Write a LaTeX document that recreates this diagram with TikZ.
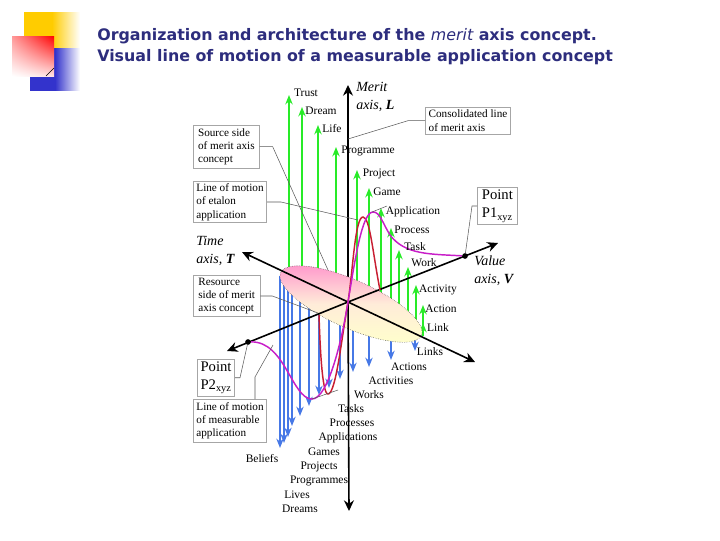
\documentclass[tikz,border=0pt]{standalone}
\usepackage{fontspec}
\setmainfont{Liberation Serif}
\newfontfamily\titlefont{DejaVu Sans}
\definecolor{title-navy}{RGB}{45,45,125}
\definecolor{logo-yellow}{RGB}{255,204,0}
\definecolor{logo-blue}{RGB}{51,51,204}
\definecolor{arrow-green}{RGB}{40,235,40}
\definecolor{arrow-blue}{RGB}{70,120,230}
\definecolor{line-magenta}{RGB}{200,30,200}
\definecolor{line-red}{RGB}{200,30,50}
\usetikzlibrary{arrows.meta, calc, shadings}

\begin{document}
\begin{tikzpicture}[
    x=0.75pt, y=-0.75pt,
    labelbox/.style={rectangle, draw=gray!70, line width=0.5pt, fill=white, align=left, inner sep=1pt, font=\fontsize{8.4}{10}\selectfont, anchor=north west},
    pointbox/.style={labelbox, inner sep=1.5pt, font=\fontsize{11}{14}\selectfont},
    concept/.style={font=\fontsize{8.6}{10}\selectfont, inner sep=0pt},
    axislabel/.style={font=\fontsize{10.5}{13.5}\selectfont\itshape, align=left, anchor=west, inner sep=0pt},
    axis/.style={-{Stealth[length=8pt,width=7.5pt]}, line width=1.2pt, black},
    risearrow/.style={-{Stealth[length=7pt,width=5.5pt]}, line width=1.8pt, arrow-green},
    fallarrow/.style={-{Stealth[length=7pt,width=5.5pt]}, line width=1.6pt, arrow-blue},
    leader/.style={gray!70!black, line width=0.4pt},
    titleline/.style={anchor=west, inner sep=0pt, text=title-navy, font=\titlefont\bfseries\fontsize{11.9}{14}\selectfont}
]

\useasboundingbox (0,0) rectangle (720,540);

% logo
\shade[left color=logo-yellow, right color=white, middle color=logo-yellow] (24,12) rectangle (80,48);
\shade[left color=logo-blue, right color=white, middle color=logo-blue] (30,48) rectangle (80,90);
\shade[upper right=red, lower left=white, upper left=red!40, lower right=red!12] (12,36) rectangle (54,76);
\coordinate (logoa) at (46,76);
\coordinate (logob) at (54,68);
\draw[black, line width=0.3pt] (logoa) -- (logob);

% title
\node[titleline] (titleone) at (97,36) {Organization and architecture of the {\mdseries\itshape merit} axis concept.};
\node[titleline] (titletwo) at (97,57) {Visual line of motion of a measurable application concept};

% falling arrows
\foreach \i/\px/\ptop/\pbot in {1/280/276/448, 2/284/278/443, 3/288/280/437, 4/292/282/426, 5/300/285/416, 6/309/295/406, 7/319/305/395, 8/329/310/388, 9/340/320/379, 10/353/325/372, 11/369/330/367, 12/391/330/360, 13/415/330/351} {
    \coordinate (ft\i) at (\px,\ptop);
    \coordinate (fb\i) at (\px,\pbot);
    \draw[fallarrow] (ft\i) -- (fb\i);
}

% rising arrows
\foreach \i/\px/\ptop/\pbot in {1/289/95/285, 2/302/107/285, 3/318/125/285, 4/336/147/290, 5/357/170/295, 6/369/188/300, 7/381/208/305, 8/391/228/310, 9/399/250/315, 10/408/267/320, 11/416/285/325, 12/423/305/330, 13/423/323/336} {
    \coordinate (rb\i) at (\px,\pbot);
    \coordinate (rt\i) at (\px,\ptop);
    \draw[risearrow] (rb\i) -- (rt\i);
}

% axes
\coordinate (origin) at (348,302);
\coordinate (merittop) at (348,85);
\coordinate (meritbot) at (349,511);
\coordinate (timeend) at (242,252);
\coordinate (timeneg) at (475,362);
\coordinate (valueend) at (498,243);
\coordinate (valueneg) at (227,351);
\draw[axis] (origin) -- (merittop);

% disc
\shade[rotate around={-24:(351,304)}, top color=pink!80!magenta, bottom color=yellow!20, middle color=orange!15, draw=black, densely dotted, line width=0.3pt] (351,304) ellipse (77 and 24);

\draw[axis] (origin) -- (meritbot);
\draw[axis] (origin) -- (timeend);
\draw[axis] (origin) -- (timeneg);
\draw[axis] (origin) -- (valueend);
\draw[axis] (origin) -- (valueneg);

% lines of motion
\coordinate (redend) at (380,290);
\coordinate (redstart) at (319,315);
\draw[line-red, line width=1.1pt] (redend) .. controls (373,255) and (370,217) .. (363,217) .. controls (355,217) and (353,270) .. (348,302) .. controls (342,335) and (336,394) .. (328,394) .. controls (322,394) and (320,345) .. (redstart);
\node[circle, fill=black, inner sep=1.5pt] (pone) at (465,256) {};
\node[circle, fill=black, inner sep=1.5pt] (ptwo) at (248,342) {};
\draw[line-magenta, line width=1.1pt] (pone) .. controls (430,254) and (405,255) .. (390,235) .. controls (382,222) and (380,212) .. (373,212) .. controls (362,212) and (355,260) .. (348,302) .. controls (342,340) and (328,399) .. (312,399) .. controls (292,399) and (285,341) .. (ptwo);

% concept labels
\node[concept] (trust) at (306,93) {Trust};
\node[concept] (dream) at (321,111) {Dream};
\node[concept] (life) at (332,129) {Life};
\node[concept] (programme) at (368,151) {Programme};
\node[concept] (project) at (379,174) {Project};
\node[concept] (game) at (387,192) {Game};
\node[concept] (application) at (413,212) {Application};
\node[concept] (process) at (412,230) {Process};
\node[concept] (task) at (415,247) {Task};
\node[concept] (work) at (424,263) {Work};
\node[concept] (activity) at (438,290) {Activity};
\node[concept] (action) at (441,309) {Action};
\node[concept] (link) at (438,328) {Link};
\node[concept] (links) at (430,352) {Links};
\node[concept] (actions) at (409,367) {Actions};
\node[concept] (activities) at (391,381) {Activities};
\node[concept] (works) at (369,395) {Works};
\node[concept] (tasks) at (351,409) {Tasks};
\node[concept] (processes) at (352,423) {Processes};
\node[concept] (applications) at (348,438) {Applications};
\node[concept] (games) at (324,452) {Games};
\node[concept] (projects) at (319,467) {Projects};
\node[concept] (programmes) at (319,481) {Programmes};
\node[concept] (lives) at (297,495) {Lives};
\node[concept] (dreams) at (300,509) {Dreams};
\node[concept] (beliefs) at (262,459) {Beliefs};

% axis labels
\node[axislabel] (meritlabel) at (356,97) {Merit\\axis, \textbf{\textit{L}}};
\node[axislabel] (timelabel) at (196,251) {Time\\axis, \textbf{\textit{T}}};
\node[axislabel] (valuelabel) at (474,271) {Value\\axis, \textbf{\textit{V}}};

% boxes
\node[labelbox, minimum width=49.5pt, minimum height=32pt] (sourcebox) at (193,125) {Source side\\of merit axis\\concept};
\node[labelbox, minimum width=55pt, minimum height=31pt] (etalonbox) at (193,181) {Line of motion\\of etalon\\application};
\node[labelbox, minimum width=64pt, minimum height=20pt] (consolidbox) at (425,107) {Consolidated line\\of merit axis};
\node[pointbox, minimum width=30pt, minimum height=28pt] (ponebox) at (477,187) {Point\\P1\textsubscript{xyz}};
\node[labelbox, minimum width=50pt, minimum height=31pt] (resourcebox) at (193,275) {Resource\\side of merit\\axis concept};
\node[pointbox, minimum width=28pt, minimum height=27pt] (ptwobox) at (197,359) {Point\\P2\textsubscript{xyz}};
\node[labelbox, minimum width=55pt, minimum height=32pt] (measurebox) at (193,399) {Line of motion\\of measurable\\application};

% leaders
\coordinate (sourcetip) at (328,270);
\coordinate (etalontip) at (358,220);
\coordinate (consolidtip) at (348,139);
\coordinate (resourcetip) at (318,313);
\coordinate (measurefoot) at (255,399);
\coordinate (measurebend) at (255,377);
\coordinate (measuretip) at (273,345);
\coordinate (peakstart) at (372,212);
\coordinate (peakend) at (387,206);
\coordinate (troughstart) at (312,399);
\coordinate (troughend) at (338,390);
\draw[leader] (sourcebox.east) -- ++(13,0) -- (sourcetip);
\draw[leader] (etalonbox.east) -- ++(14,0) -- (etalontip);
\draw[leader] (consolidbox.west) -- ++(-17,0) -- (consolidtip);
\draw[leader] (ponebox.west) -- ++(-5,0) -- (pone);
\draw[leader] (resourcebox.east) -- ++(12,0) -- (resourcetip);
\draw[leader] (ptwobox.east) -- ++(5,0) -- (ptwo);
\draw[leader] (measurefoot) -- (measurebend) -- (measuretip);
\draw[leader] (peakstart) -- (peakend);
\draw[leader] (troughstart) -- (troughend);

\end{tikzpicture}
\end{document}
